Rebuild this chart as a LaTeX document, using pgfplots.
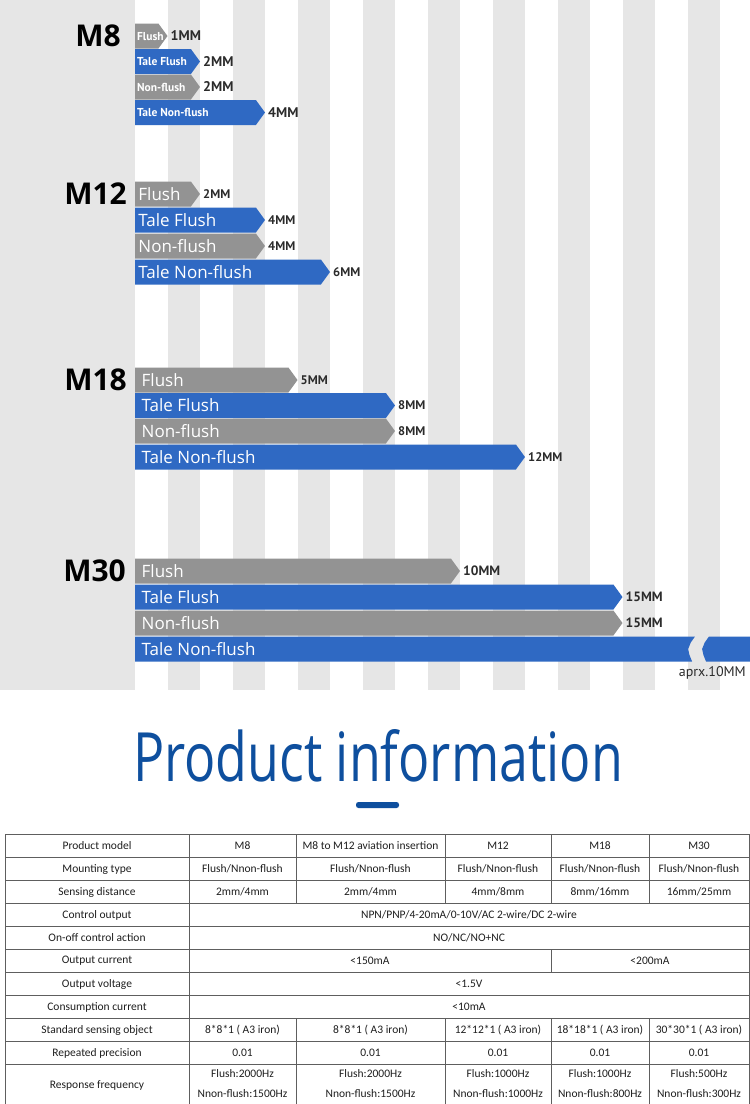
\documentclass[border=0pt]{standalone}
\usepackage{pgfplots}
\pgfplotsset{compat=1.18}
\usepackage{fontspec}
\setmainfont{Open Sans}
\newfontfamily\titlefont{Open Sans}[Ligatures=NoCommon]
\newfontfamily\ptsans{PT Sans}
\newfontfamily\carlito{Carlito}
\definecolor{bggray}{HTML}{E6E6E6}
\definecolor{bargray}{HTML}{939393}
\definecolor{barblue}{HTML}{2F69C3}
\definecolor{titleblue}{HTML}{0E4F9E}
\definecolor{labeltext}{HTML}{2B2B2B}
\definecolor{tline}{HTML}{5E5E5E}
\newcommand\fs[1]{\fontsize{#1}{#1}\selectfont}
\tikzset{
  m8lab/.style={font=\ptsans\bfseries\fs{11.5},text height=8pt,text depth=0pt},
  m8val/.style={font=\ptsans\bfseries\fs{14},text height=9.8pt,text depth=0pt},
  lab/.style={font=\fs{17},text height=12.2pt,text depth=0pt},
  m12val/.style={font=\ptsans\bfseries\fs{12.5},text height=8.8pt,text depth=0pt},
  val/.style={font=\ptsans\bfseries\fs{13.5},text height=9.5pt,text depth=0pt},
}
% #1 value (mm), #2 row centre (px), #3 colour, #4 label, #5 label style, #6 value text, #7 value style, #8 label x
\newcommand\abar[8]{%
  \pgfmathsetmacro\yt{#2-12.5}%
  \pgfmathsetmacro\yb{#2+12.5}%
  \pgfmathsetmacro\xb{#1-0.28}%
  \edef\tmp{\noexpand\addplot[fill=#3,draw=none] coordinates {(0,\yt) (\xb,\yt) (#1,#2) (\xb,\yb) (0,\yb)} -- cycle;}\tmp
  \node[anchor=west,text=white,inner sep=0pt,#5] at (axis cs:#8,#2) {#4};
  \node[anchor=west,text=labeltext,inner sep=0pt,xshift=3pt,#7] at (axis cs:#1,#2) {#6};
}
\begin{document}
\begin{tikzpicture}
\useasboundingbox (0pt,0pt) rectangle (750pt,-1104pt);
\fill[white] (0pt,0pt) rectangle (750pt,-1104pt);
\begin{axis}[at={(0pt,0pt)}, anchor=north west, scale only axis,
  width=750pt, height=690pt,
  xmin=-4.153846, xmax=18.923077, ymin=0, ymax=690, y dir=reverse,
  axis lines=none, ticks=none, clip=true]
% background with stripes (1 mm per stripe)
\addplot[fill=bggray,draw=none] coordinates {(-5,0) (20,0) (20,690) (-5,690)} -- cycle;
\addplot[fill=white,draw=none] coordinates {(0,0) (1,0) (1,690) (0,690)} -- cycle;
\addplot[fill=white,draw=none] coordinates {(2,0) (3,0) (3,690) (2,690)} -- cycle;
\addplot[fill=white,draw=none] coordinates {(4,0) (5,0) (5,690) (4,690)} -- cycle;
\addplot[fill=white,draw=none] coordinates {(6,0) (7,0) (7,690) (6,690)} -- cycle;
\addplot[fill=white,draw=none] coordinates {(8,0) (9,0) (9,690) (8,690)} -- cycle;
\addplot[fill=white,draw=none] coordinates {(10,0) (11,0) (11,690) (10,690)} -- cycle;
\addplot[fill=white,draw=none] coordinates {(12,0) (13,0) (13,690) (12,690)} -- cycle;
\addplot[fill=white,draw=none] coordinates {(14,0) (15,0) (15,690) (14,690)} -- cycle;
\addplot[fill=white,draw=none] coordinates {(16,0) (17,0) (17,690) (16,690)} -- cycle;
\addplot[fill=white,draw=none] coordinates {(18,0) (19,0) (19,690) (18,690)} -- cycle;
% M8
\abar{1}{36}{bargray}{Flush}{m8lab}{1MM}{m8val}{0.06}
\abar{2}{61.5}{barblue}{Tale Flush}{m8lab}{2MM}{m8val}{0.06}
\abar{2}{87}{bargray}{Non-flush}{m8lab}{2MM}{m8val}{0.06}
\abar{4}{112.5}{barblue}{Tale Non-flush}{m8lab}{4MM}{m8val}{0.06}
% M12
\abar{2}{194}{bargray}{Flush}{lab}{2MM}{m12val}{0.1}
\abar{4}{220}{barblue}{Tale Flush}{lab}{4MM}{m12val}{0.1}
\abar{4}{246}{bargray}{Non-flush}{lab}{4MM}{m12val}{0.1}
\abar{6}{272}{barblue}{Tale Non-flush}{lab}{6MM}{m12val}{0.1}
% M18
\abar{5}{380}{bargray}{Flush}{lab}{5MM}{m12val}{0.2}
\abar{8}{405.5}{barblue}{Tale Flush}{lab}{8MM}{m12val}{0.2}
\abar{8}{431}{bargray}{Non-flush}{lab}{8MM}{m12val}{0.2}
\abar{12}{457}{barblue}{Tale Non-flush}{lab}{12MM}{m12val}{0.2}
% M30
\abar{10}{571}{bargray}{Flush}{lab}{10MM}{val}{0.2}
\abar{15}{597}{barblue}{Tale Flush}{lab}{15MM}{val}{0.2}
\abar{15}{623}{bargray}{Non-flush}{lab}{15MM}{val}{0.2}
% M30 Tale Non-flush, broken bar
\addplot[fill=barblue,draw=none] coordinates {(0,636.5) (17.23,636.5) (17.10,642.5) (17.02,649) (17.06,655) (17.14,661.5) (0,661.5)} -- cycle;
\addplot[fill=barblue,draw=none] coordinates {(17.66,636.5) (19.2,636.5) (19.2,661.5) (17.57,661.5) (17.49,655) (17.45,649) (17.53,642.5)} -- cycle;
\node[anchor=west,text=white,inner sep=0pt,lab] at (axis cs:0.2,649) {Tale Non-flush};
\end{axis}
\begin{scope}[x=1pt,y=-1pt]
% group labels
\node[anchor=east,inner sep=0pt,font=\bfseries\fs{30},text height=21.5pt,text depth=0pt] at (121,36) {M8};
\node[anchor=east,inner sep=0pt,font=\bfseries\fs{30},text height=21.5pt,text depth=0pt] at (127,194) {M12};
\node[anchor=east,inner sep=0pt,font=\bfseries\fs{30},text height=21.5pt,text depth=0pt] at (127,380) {M18};
\node[anchor=east,inner sep=0pt,font=\bfseries\fs{30},text height=21.5pt,text depth=0pt] at (126,571) {M30};
\node[anchor=east,inner sep=0pt,font=\ptsans\fs{14},text=labeltext] at (746,673) {aprx.10MM};
% title
\node[anchor=base,inner sep=0pt] at (378,781) {\resizebox{490pt}{52pt}{\titlefont\color{titleblue}Product informat\kern0pt ion}};
\fill[titleblue,rounded corners=2.5pt] (356,802) rectangle (399,808);
% table grid
\begin{scope}[draw=tline,line width=0.8pt]
\foreach \y in {834.5,857.5,880.5,903.5,926.5,949.5,972.5,995.5,1018.5,1041.5,1064.5}
  \draw (5,\y) -- (749.5,\y);
\draw (5,834.5) -- (5,1110);
\draw (749.5,834.5) -- (749.5,1110);
\draw (189,834.5) -- (189,1110);
\foreach \x in {296,445,551,649} {
  \draw (\x,834.5) -- (\x,903.5);
  \draw (\x,1018.5) -- (\x,1110);
}
\draw (551,949.5) -- (551,972.5);
\end{scope}
% table text
\begin{scope}[every node/.style={inner sep=0pt,font=\carlito\fs{11.5},text=black!88}]
\node at (97,846) {Product model};
\node at (242.5,846) {M8};
\node at (370.5,846) {M8 to M12 aviation insertion};
\node at (498,846) {M12};
\node at (600,846) {M18};
\node at (699,846) {M30};
\node at (97,869) {Mounting type};
\foreach \x in {242.5,370.5,498,600,699} \node at (\x,869) {Flush/Nnon-flush};
\node at (97,892) {Sensing distance};
\node at (242.5,892) {2mm/4mm};
\node at (370.5,892) {2mm/4mm};
\node at (498,892) {4mm/8mm};
\node at (600,892) {8mm/16mm};
\node at (699,892) {16mm/25mm};
\node at (97,915) {Control output};
\node at (469,915) {NPN/PNP/4-20mA/0-10V/AC 2-wire/DC 2-wire};
\node at (97,938) {On-off control action};
\node at (469,938) {NO/NC/NO+NC};
\node at (97,961) {Output current};
\node at (370,961) {<150mA};
\node at (650,961) {<200mA};
\node at (97,984) {Output voltage};
\node at (469,984) {<1.5V};
\node at (97,1007) {Consumption current};
\node at (469,1007) {<10mA};
\node at (97,1030) {Standard sensing object};
\node at (242.5,1030) {8*8*1 ( A3 iron)};
\node at (370.5,1030) {8*8*1 ( A3 iron)};
\node at (498,1030) {12*12*1 ( A3 iron)};
\node at (600,1030) {18*18*1 ( A3 iron)};
\node at (699,1030) {30*30*1 ( A3 iron)};
\node at (97,1053) {Repeated precision};
\foreach \x in {242.5,370.5,498,600,699} \node at (\x,1053) {0.01};
\node at (97,1085) {Response frequency};
\node at (242.5,1074) {Flush:2000Hz};
\node at (242.5,1094) {Nnon-flush:1500Hz};
\node at (370.5,1074) {Flush:2000Hz};
\node at (370.5,1094) {Nnon-flush:1500Hz};
\node at (498,1074) {Flush:1000Hz};
\node at (498,1094) {Nnon-flush:1000Hz};
\node at (600,1074) {Flush:1000Hz};
\node at (600,1094) {Nnon-flush:800Hz};
\node at (699,1074) {Flush:500Hz};
\node at (699,1094) {Nnon-flush:300Hz};
\end{scope}
\end{scope}
\end{tikzpicture}
\end{document}
